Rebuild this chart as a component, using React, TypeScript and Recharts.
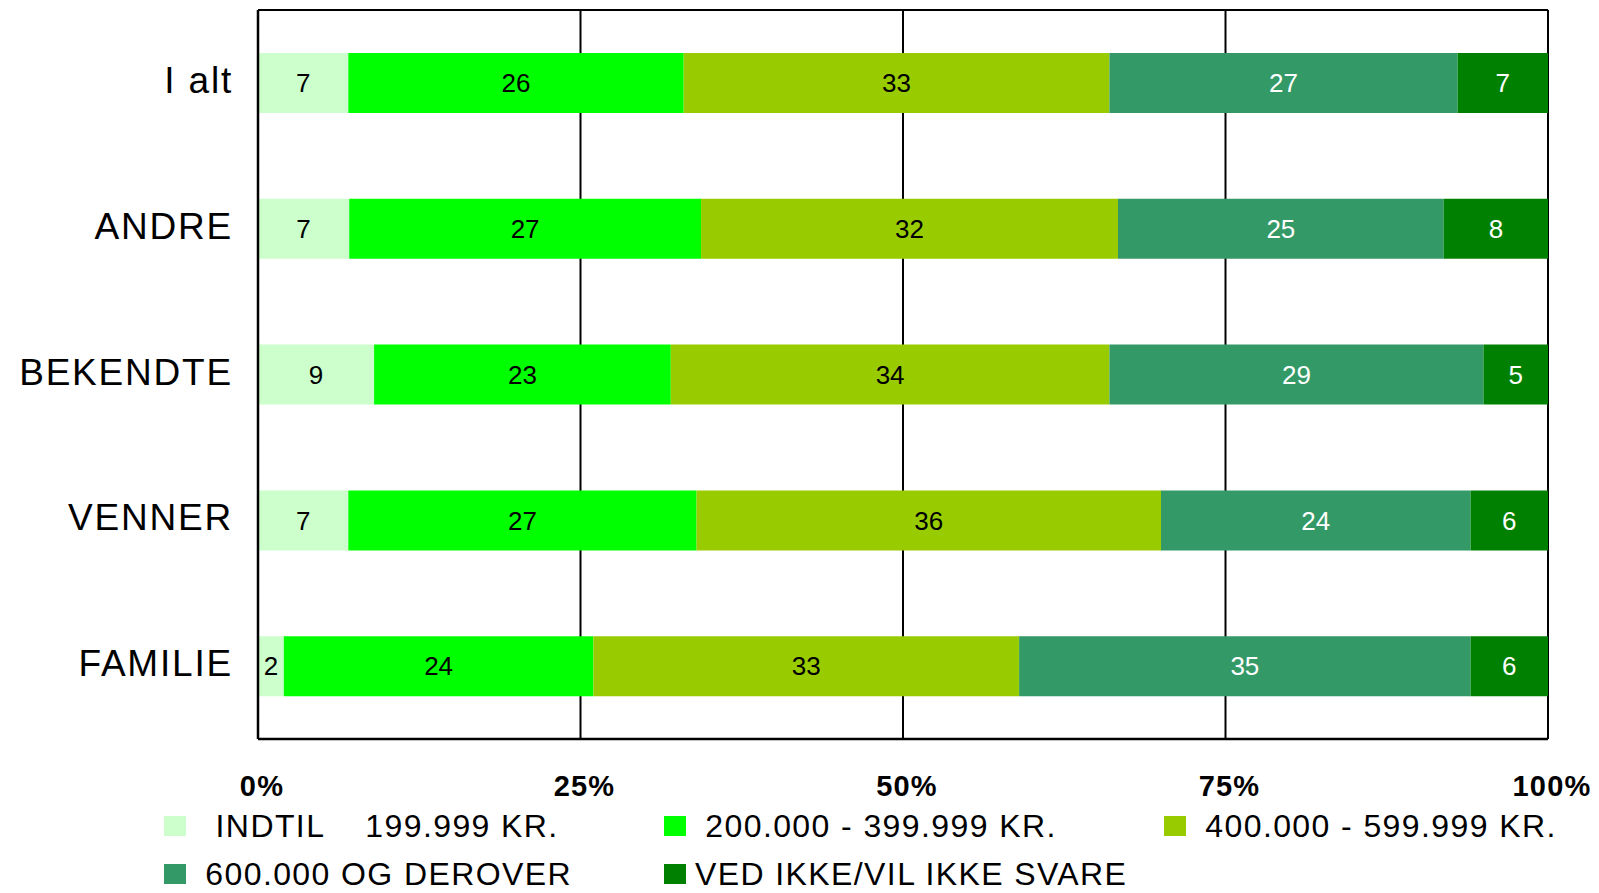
import React from 'react';
import { BarChart, Bar, XAxis, YAxis, CartesianGrid, LabelList, Legend } from 'recharts';

const FONT = '"Liberation Sans", Arial, Helvetica, sans-serif';

// categories top to bottom
const categories = ['I alt', 'ANDRE', 'BEKENDTE', 'VENNER', 'FAMILIE'];

// values per income band (percent)
const indtil199 = [7, 7, 9, 7, 2];
const fra200 = [26, 27, 23, 27, 24];
const fra400 = [33, 32, 34, 36, 33];
const over600 = [27, 25, 29, 24, 35];
const vedIkke = [7, 8, 5, 6, 6];

const seriesNames = [
  '  INDTIL    199.999 KR.',
  ' 200.000 - 399.999 KR.',
  ' 400.000 - 599.999 KR.',
  ' 600.000 OG DEROVER',
  'VED IKKE/VIL IKKE SVARE',
];

const xTicks = [0, 0.25, 0.5, 0.75, 1];

const series = [
  { key: 'indtil199', values: indtil199, color: '#CCFFCC', text: '#000' },
  { key: 'fra200', values: fra200, color: '#00FF00', text: '#000' },
  { key: 'fra400', values: fra400, color: '#99CC00', text: '#000' },
  { key: 'over600', values: over600, color: '#339966', text: '#fff' },
  { key: 'vedIkke', values: vedIkke, color: '#008000', text: '#fff' },
];

const data = categories.map((name, i) => {
  const row: Record<string, string | number> = { name };
  series.forEach(s => {
    row[s.key] = s.values[i];
  });
  return row;
});

const XTick = ({ x, y, payload }: any) => (
  <text
    x={x + 4}
    y={y + 55}
    textAnchor="middle"
    fontFamily={FONT}
    fontWeight="bold"
    fontSize={29}
    letterSpacing={1.2}
    fill="#000"
  >
    {Math.round(payload.value * 100)}%
  </text>
);

const YTick = ({ x, y, payload }: any) => (
  <text
    x={x}
    y={y + 10}
    textAnchor="end"
    fontFamily={FONT}
    fontSize={37}
    letterSpacing={1.8}
    fill="#000"
  >
    {payload.value}
  </text>
);

const LegendBlock = () => (
  <div style={{ position: 'relative', height: 0 }}>
    {series.map((s, i) => (
      <div
        key={s.key}
        style={{
          position: 'absolute',
          left: 164 + (i % 3) * 500,
          top: 813 + Math.floor(i / 3) * 48,
          height: 26,
          display: 'flex',
          alignItems: 'center',
          whiteSpace: 'pre',
        }}
      >
        <div style={{ width: 22, height: 20, background: s.color, marginRight: 9 }} />
        <span
          style={{
            fontFamily: FONT,
            fontSize: 32,
            lineHeight: '26px',
            letterSpacing: 1.4,
            color: '#000',
          }}
        >
          {seriesNames[i]}
        </span>
      </div>
    ))}
  </div>
);

export default function App() {
  return (
    <div style={{ position: 'absolute', left: 0, top: 0, width: 1599, height: 893, background: '#fff' }}>
      <BarChart
        width={1599}
        height={893}
        data={data}
        layout="vertical"
        stackOffset="expand"
        barCategoryGap="29.5%"
        margin={{ top: 10, right: 51, bottom: 94, left: 0 }}
      >
        <CartesianGrid
          stroke="#000"
          strokeWidth={2}
          horizontalCoordinatesGenerator={({ offset }: any) => [offset.top]}
        />
        <XAxis
          type="number"
          domain={[0, 1]}
          ticks={xTicks}
          tick={<XTick />}
          tickLine={false}
          tickSize={0}
          axisLine={{ stroke: '#000', strokeWidth: 2.5 }}
          height={60}
        />
        <YAxis
          type="category"
          dataKey="name"
          width={258}
          tick={<YTick />}
          tickLine={false}
          tickSize={0}
          tickMargin={25}
          axisLine={{ stroke: '#000', strokeWidth: 2.5 }}
        />
        <Legend
          content={<LegendBlock />}
          wrapperStyle={{ left: 0, top: 0, width: 1599, height: 0 }}
        />
        {series.map((s, i) => (
          <Bar
            key={s.key}
            dataKey={s.key}
            name={seriesNames[i]}
            stackId="a"
            fill={s.color}
            isAnimationActive={false}
          >
            <LabelList
              dataKey={s.key}
              position="center"
              fill={s.text}
              fontFamily={FONT}
              fontSize={26}
            />
          </Bar>
        ))}
      </BarChart>
    </div>
  );
}
